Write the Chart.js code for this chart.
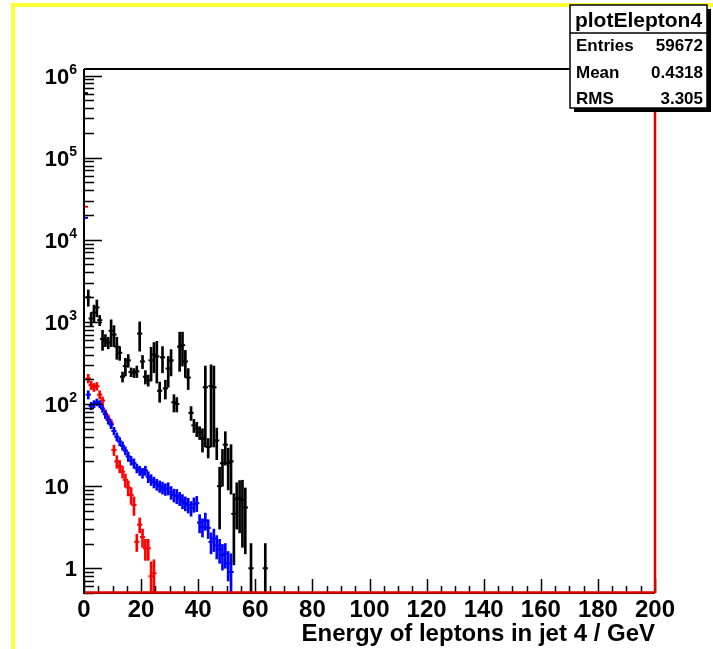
<!DOCTYPE html>
<html><head><meta charset="utf-8">
<script src="https://cdn.jsdelivr.net/npm/chart.js@4.4.1/dist/chart.umd.min.js"></script>
<style>html,body{margin:0;padding:0;background:#fff;}canvas{display:block;}</style>
</head><body>
<canvas id="c" width="713" height="649"></canvas>
<script>
// ---- data (1 GeV bins starting at 0) ----
const binWidth = 1;
const blackValues = [610000,2000,1100,1300,1500,1050,620,600,560,780,700,500,420,215,290,340,245,240,250,720,
  330,215,195,340,400,380,145,370,155,270,340,105,100,500,520,330,210,78,55,50,
  45,38,160,30,165,160,36,10,19,32,19,20,4.6,7,7.2,6.8,5.5,null,1,null,
  null,null,null,1];
const blackErrors = [3000,450,200,300,350,150,170,100,90,280,200,150,80,30,70,60,30,30,40,280,
  60,40,30,150,160,200,40,130,40,110,120,25,20,250,230,120,60,15,10,10,
  8,12,130,8,135,130,15,7,9,14,10,12,3.5,4,4.5,5,4,null,1,null,
  null,null,null,1];
const blueValues = [18500,130,95,100,105,100,88,75,64,56,47,40,35,31,27,23,20.5,19,16.5,15.5,
  14.5,15.5,13,12,11.2,10.5,10,9.6,9.2,9.4,8.4,7.8,7.6,7.1,6.6,6.2,5.9,5.4,6.0,6.2,
  3.6,3.2,3.8,3.1,2.1,2.3,1.9,1.7,1.45,1.5,1.15,0.9];
const blueErrors = [150,15,10,10,10,10,9,8,7,6,5,4.5,4,3.5,3,3,2.5,2.5,2,2,
  2,2,2,1.8,1.7,1.6,1.6,1.6,1.5,1.6,1.5,1.4,1.5,1.3,1.3,1.2,1.2,1.1,1.2,1.3,
  0.9,0.8,0.9,0.8,0.6,0.7,0.6,0.55,0.5,0.5,0.45,0.6];
const redValues = [25300,205,170,160,165,130,110,76,66,58,27.6,20,17.5,15,11.9,9.6,7.8,5.9,2.1,3.4,
  2.4,1.75,1.75,0.8,0.87];
const redErrors = [200,25,20,18,18,15,12,9,8,7,4,3.5,3,2.5,2.2,2,1.8,1.5,0.5,0.7,
  0.6,0.5,0.5,0.4,0.4];
const xTickLabels = ['0','20','40','60','80','100','120','140','160','180','200'];
const xTickValues = [0,20,40,60,80,100,120,140,160,180,200];
const yTickValues = [1,10,100,1000,10000,100000,1000000];
const yTickBase = ['1','10','10','10','10','10','10'];
const yTickExp = ['','','2','3','4','5','6'];
const xTitle = 'Energy of leptons in jet 4 / GeV';
const statsTitle = 'plotElepton4';
const statsNames = ['Entries','Mean','RMS'];
const statsValues = ['59672','0.4318','3.305'];

const X_MIN = 0, X_MAX = 200, Y_MIN = 0.5, Y_MAX = 1.2e6;
const COL_BLACK = '#000000', COL_BLUE = '#0000ff', COL_RED = '#ff0000';

function barData(vals, errs) {
  const out = [];
  vals.forEach((v, i) => {
    if (v == null) return;
    out.push({x: (i + 0.5) * binWidth, y: [Math.max(v - errs[i], 0.05), v + errs[i]]});
  });
  return out;
}
function markData(vals) {
  const out = [];
  vals.forEach((v, i) => { if (v != null) out.push({x: (i + 0.5) * binWidth, y: v}); });
  return out;
}
function seriesSets(vals, errs, col) {
  return [
    {type: 'bar', data: barData(vals, errs), backgroundColor: col, borderWidth: 0, barThickness: 2, grouped: false},
    {type: 'scatter', data: markData(vals), pointStyle: 'line', radius: 2.6, borderColor: col, borderWidth: 2, showLine: false}
  ];
}

const F = '"Liberation Sans", Arial, Helvetica, sans-serif';

const framePlugin = {
  id: 'frame',
  beforeDraw(chart) {
    const ctx = chart.ctx;
    ctx.save();
    ctx.fillStyle = '#ffffff';
    ctx.fillRect(0, 0, chart.width, chart.height);
    ctx.fillStyle = '#ffff33';
    ctx.fillRect(11, 3, chart.width - 11, 4);
    ctx.fillRect(11, 3, 4, chart.height - 3);
    ctx.restore();
  },
  afterDatasetsDraw(chart) {
    const ctx = chart.ctx;
    const a = chart.chartArea;
    const xs = chart.scales.x, ys = chart.scales.y;
    ctx.save();
    ctx.strokeStyle = '#000';
    ctx.lineWidth = 1.5;
    ctx.beginPath();
    for (let k = -1; k <= 6; k++) {
      for (let m = 1; m <= 9; m++) {
        const v = m * Math.pow(10, k);
        if (v < Y_MIN || v > Y_MAX) continue;
        const py = Math.round(ys.getPixelForValue(v)) + 0.5;
        const len = m === 1 ? 18 : 10;
        ctx.moveTo(a.left, py); ctx.lineTo(a.left + len, py);
      }
    }
    for (let v = X_MIN; v <= X_MAX; v += 5) {
      const px = Math.round(xs.getPixelForValue(v)) + 0.5;
      const len = v % 20 === 0 ? 14 : 7;
      ctx.moveTo(px, a.bottom); ctx.lineTo(px, a.bottom - len);
    }
    ctx.stroke();
    ctx.lineWidth = 2;
    ctx.beginPath();
    ctx.moveTo(a.left, a.top); ctx.lineTo(a.right, a.top);
    ctx.moveTo(a.left, a.top); ctx.lineTo(a.left, a.bottom + 1);
    ctx.moveTo(a.left, a.bottom); ctx.lineTo(a.right, a.bottom);
    ctx.stroke();
    ctx.strokeStyle = '#e00000';
    ctx.lineWidth = 2.5;
    ctx.beginPath();
    ctx.moveTo(a.left + 1, a.bottom - 0.5); ctx.lineTo(a.right, a.bottom - 0.5);
    ctx.moveTo(a.right, a.top); ctx.lineTo(a.right, a.bottom);
    ctx.stroke();

    ctx.fillStyle = '#000';
    ctx.font = 'bold 24px ' + F;
    ctx.textAlign = 'center';
    ctx.textBaseline = 'alphabetic';
    xTickValues.forEach((v, i) => {
      ctx.fillText(xTickLabels[i], xs.getPixelForValue(v), a.bottom + 24);
    });
    ctx.textAlign = 'right';
    ctx.fillText(xTitle, a.right, a.bottom + 48);

    const rightEdge = a.left - 7;
    yTickValues.forEach((v, i) => {
      const py = ys.getPixelForValue(v);
      ctx.font = 'bold 14px ' + F;
      const ew = yTickExp[i] ? ctx.measureText(yTickExp[i]).width : 0;
      if (yTickExp[i]) {
        ctx.textAlign = 'right';
        ctx.fillText(yTickExp[i], rightEdge, py - 2);
      }
      ctx.font = 'bold 22px ' + F;
      ctx.textAlign = 'right';
      const edge = (yTickBase[i] === '10' && !yTickExp[i]) ? rightEdge - 8 : rightEdge - ew;
      ctx.fillText(yTickBase[i], edge, py + 8);
    });

    const bx = 570, by = 5, bw = 137, bh = 103;
    ctx.fillStyle = '#000';
    ctx.fillRect(bx + 4, by + bh, bw, 4);
    ctx.fillRect(bx + bw, by + 4, 4, bh);
    ctx.fillStyle = '#fff';
    ctx.fillRect(bx, by, bw, bh);
    ctx.strokeStyle = '#000';
    ctx.lineWidth = 1.5;
    ctx.strokeRect(bx, by, bw, bh);
    ctx.beginPath();
    ctx.moveTo(bx, by + 28); ctx.lineTo(bx + bw, by + 28);
    ctx.stroke();
    ctx.fillStyle = '#000';
    ctx.font = 'bold 21px ' + F;
    ctx.textAlign = 'center';
    ctx.fillText(statsTitle, bx + bw / 2, by + 22);
    ctx.font = 'bold 17px ' + F;
    statsNames.forEach((n, i) => {
      const ty = by + 46 + i * 26.5;
      ctx.textAlign = 'left';
      ctx.fillText(n, bx + 6, ty);
      ctx.textAlign = 'right';
      ctx.fillText(statsValues[i], bx + bw - 4, ty);
    });
    ctx.restore();
  }
};

new Chart(document.getElementById('c'), {
  type: 'scatter',
  data: {
    datasets: [
      ...seriesSets(blackValues, blackErrors, COL_BLACK),
      ...seriesSets(blueValues, blueErrors, COL_BLUE),
      ...seriesSets(redValues, redErrors, COL_RED)
    ]
  },
  options: {
    responsive: false,
    animation: false,
    devicePixelRatio: 1,
    events: [],
    layout: {padding: {left: 84, right: 58, top: 69, bottom: 56}},
    scales: {
      x: {type: 'linear', min: X_MIN, max: X_MAX, offset: false, display: false},
      y: {type: 'logarithmic', min: Y_MIN, max: Y_MAX, display: false}
    },
    plugins: {legend: {display: false}, tooltip: {enabled: false}}
  },
  plugins: [framePlugin]
});
</script>
</body></html>
